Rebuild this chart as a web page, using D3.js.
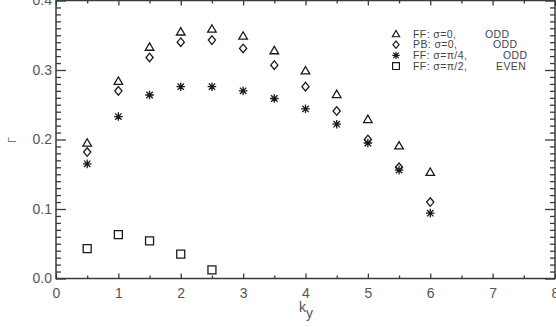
<!DOCTYPE html>
<html>
<head>
<meta charset="utf-8">
<script src="https://cdnjs.cloudflare.com/ajax/libs/d3/7.8.5/d3.min.js"></script>
<style>
  body { margin: 0; background: #fff; }
  svg { display: block; }
  .tick text { font-family: "Liberation Sans", Arial, sans-serif; font-size: 14px; fill: #555; }
  .legend text { font-family: "Liberation Sans", Arial, sans-serif; font-size: 10.5px; letter-spacing: 0.4px; fill: #444; }
</style>
</head>
<body>
<script>
// k_y values
var kyFull = [0.5, 1, 1.5, 2, 2.5, 3, 3.5, 4, 4.5, 5, 5.5, 6];
var kyEven = [0.5, 1, 1.5, 2, 2.5];
// growth rate
var ffOdd0   = [0.195, 0.284, 0.333, 0.355, 0.359, 0.349, 0.328, 0.299, 0.265, 0.229, 0.191, 0.153];
var pbOdd0   = [0.182, 0.270, 0.318, 0.340, 0.343, 0.331, 0.307, 0.276, 0.241, 0.200, 0.160, 0.110];
var ffOddPi4 = [0.165, 0.233, 0.264, 0.276, 0.276, 0.270, 0.259, 0.244, 0.222, 0.195, 0.156, 0.094];
var ffEvenPi2 = [0.043, 0.063, 0.054, 0.035, 0.0125];
var xTicks = [0, 1, 2, 3, 4, 5, 6, 7, 8];
var yTicks = [0.0, 0.1, 0.2, 0.3, 0.4];

(function(){
  const W = 556, H = 327;
  const X0 = 56, X1 = 555, Y0 = 278.5, Y1 = 0.5;
  var svg = d3.select('body').append('svg').attr('width', W).attr('height', H);

  var x = d3.scaleLinear().domain([0, 8]).range([X0, X1]);
  var y = d3.scaleLinear().domain([0, 0.4]).range([Y0, Y1]);

  var axisCol = '#3a3a3a';
  var markCol = '#1a1a1a';

  function styleAxis(g){
    g.select('.domain').remove();
    g.selectAll('.tick line').attr('stroke', axisCol).attr('stroke-width', 1.3);
  }
  var minorX = d3.range(0.5, 8, 1);
  var minorY = d3.range(1, 40).filter(function(i){ return i % 10 != 0; }).map(function(i){ return i / 100; });

  // bottom axis
  svg.append('g').attr('transform', 'translate(0,' + Y0 + ')')
    .call(d3.axisBottom(x).tickValues(xTicks).tickSize(-5).tickPadding(10).tickFormat(d3.format('d')))
    .call(styleAxis);
  svg.append('g').attr('transform', 'translate(0,' + Y0 + ')')
    .call(d3.axisBottom(x).tickValues(minorX).tickSize(-3).tickFormat(''))
    .call(styleAxis);
  // top axis
  svg.append('g').attr('transform', 'translate(0,' + Y1 + ')')
    .call(d3.axisTop(x).tickValues(xTicks).tickSize(-5).tickFormat(''))
    .call(styleAxis);
  svg.append('g').attr('transform', 'translate(0,' + Y1 + ')')
    .call(d3.axisTop(x).tickValues(minorX).tickSize(-3).tickFormat(''))
    .call(styleAxis);
  // left axis
  svg.append('g').attr('transform', 'translate(' + X0 + ',0)')
    .call(d3.axisLeft(y).tickValues(yTicks).tickSize(-10).tickPadding(4).tickFormat(d3.format('.1f')))
    .call(styleAxis);
  svg.append('g').attr('transform', 'translate(' + X0 + ',0)')
    .call(d3.axisLeft(y).tickValues(minorY).tickSize(-5).tickFormat(''))
    .call(styleAxis);
  // right axis
  svg.append('g').attr('transform', 'translate(' + X1 + ',0)')
    .call(d3.axisRight(y).tickValues(yTicks).tickSize(-10).tickFormat(''))
    .call(styleAxis);
  svg.append('g').attr('transform', 'translate(' + X1 + ',0)')
    .call(d3.axisRight(y).tickValues(minorY).tickSize(-5).tickFormat(''))
    .call(styleAxis);

  // frame
  svg.append('rect').attr('x', X0).attr('y', Y1).attr('width', X1 - X0).attr('height', Y0 - Y1)
    .attr('fill', 'none').attr('stroke', axisCol).attr('stroke-width', 1.5);

  // axis titles
  var kt = svg.append('text').attr('x', 299).attr('y', 312)
    .attr('font-family', '"Liberation Sans", Arial, sans-serif').attr('font-size', 14).attr('fill', '#555');
  kt.append('tspan').text('k');
  kt.append('tspan').attr('dy', 6).attr('font-size', 14).text('y');
  svg.append('text').attr('transform', 'translate(16,140) rotate(-90)').attr('text-anchor', 'middle')
    .attr('font-family', '"Liberation Sans", Arial, sans-serif').attr('font-size', 11).attr('fill', '#777')
    .text('Γ');

  // markers
  var sym = {
    tri: function(g){ g.append('path').attr('d', 'M0,-4.2L4.3,3.2L-4.3,3.2Z'); },
    dia: function(g){ g.append('path').attr('d', 'M0,-4.3L3.6,0L0,4.3L-3.6,0Z'); },
    star: function(g){ g.append('path').attr('d', 'M0,-4.3V4.3M-4.3,0H4.3M-3.2,-3.2L3.2,3.2M-3.2,3.2L3.2,-3.2'); },
    sq: function(g){ g.append('path').attr('d', 'M-4,-4H4V4H-4Z'); }
  };
  function plot(xs, ys, kind){
    var g = svg.append('g');
    g.selectAll('g').data(ys).enter().append('g')
      .attr('transform', function(d, i){ return 'translate(' + x(xs[i]) + ',' + y(d) + ')'; })
      .attr('fill', 'none').attr('stroke', markCol).attr('stroke-width', 1.3)
      .each(function(){ sym[kind](d3.select(this)); });
  }
  plot(kyFull, ffOdd0, 'tri');
  plot(kyFull, pbOdd0, 'dia');
  plot(kyFull, ffOddPi4, 'star');
  plot(kyEven, ffEvenPi2, 'sq');

  // legend
  var legend = [
    {kind: 'tri', a: 'FF: σ=0,', b: 'ODD', bx: 485},
    {kind: 'dia', a: 'PB: σ=0,', b: 'ODD', bx: 493},
    {kind: 'star', a: 'FF: σ=π/4,', b: 'ODD', bx: 503},
    {kind: 'sq', a: 'FF: σ=π/2,', b: 'EVEN', bx: 496}
  ];
  var lg = svg.append('g').attr('class', 'legend');
  legend.forEach(function(d, i){
    var cy = 34 + i * 10.7;
    var m = lg.append('g').attr('transform', 'translate(396,' + cy + ') scale(0.85)')
      .attr('fill', 'none').attr('stroke', markCol).attr('stroke-width', 1.4);
    sym[d.kind](m);
    var t = lg.append('text').attr('x', 413).attr('y', cy + 3.5);
    t.append('tspan').text(d.a);
    t.append('tspan').attr('x', d.bx).text(d.b);
  });
})();
</script>
</body>
</html>
